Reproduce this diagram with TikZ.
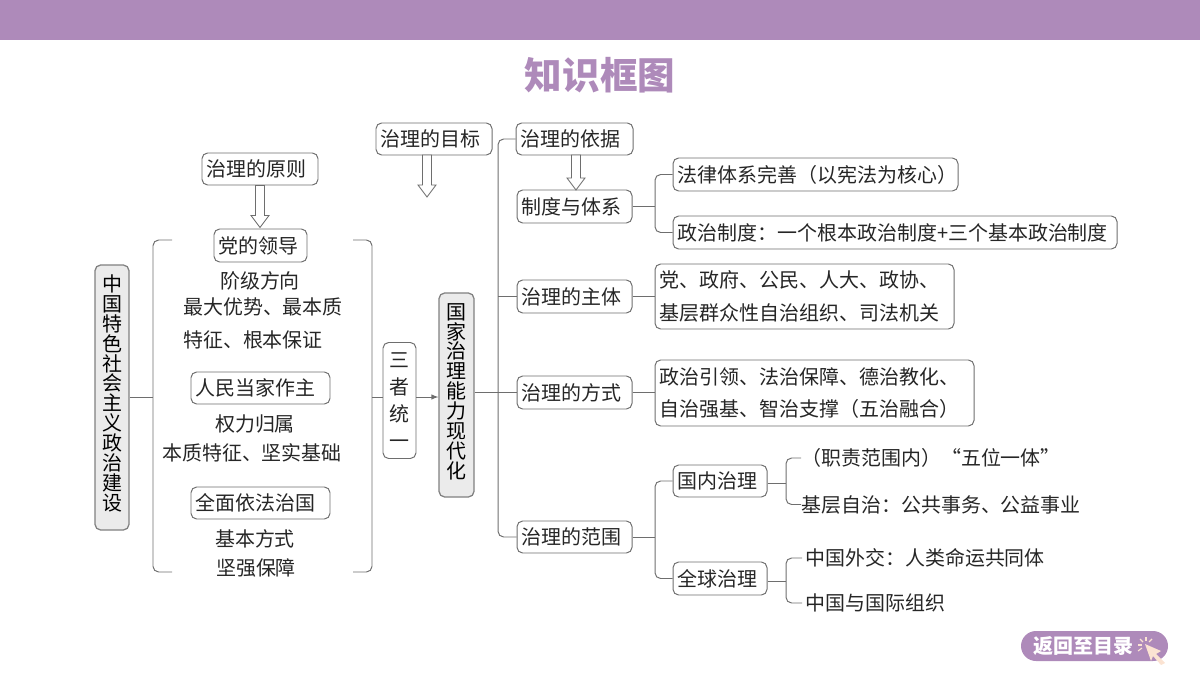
\documentclass[tikz,border=0pt]{standalone}
\usepackage{fontspec}
\setmainfont{Noto Sans CJK SC}
\usetikzlibrary{arrows.meta}
\usetikzlibrary{positioning}
\definecolor{headpurple}{HTML}{AE8ABA}
\definecolor{linegray}{HTML}{6E6E6E}
\definecolor{panelgray}{HTML}{EBEBEB}
\definecolor{handcream}{HTML}{FBE3D2}
\tikzset{>=latex}
\tikzset{
  every node/.style={font=\fontsize{14.2}{23}\selectfont, text=black!85, inner sep=0pt},
  boxnode/.style={draw=linegray, rounded corners=4pt, line width=0.7pt, fill=white, align=left, inner xsep=4.5*0.025cm, text width={(#1-9)*0.025cm}},
  panelnode/.style={draw=gray, rounded corners=4pt, line width=0.9pt, fill=panelgray, align=center, text=black, font=\fontsize{14.2}{14.2}\selectfont},
  plaintext/.style={align=center},
  branch/.style={draw=linegray, line width=0.7pt, rounded corners=4pt},
  hollow/.style={draw=linegray, line width=0.6pt, fill=white}
}
% hollow arrow: top point, length
\newcommand{\hollowarrow}[2]{
  \draw[hollow] (#1) ++(-4.5,0) -- ++(0,#2-12) -- ++(-4.5,0) -- ++(9,12) -- ++(9,-12) -- ++(-4.5,0) -- ++(0,12-#2) -- cycle;
}
\begin{document}
\begin{tikzpicture}[x=0.025cm, y=-0.025cm]
    \useasboundingbox (0,0) rectangle (1200,675);

    % Draw the header and the title.
    \fill[headpurple] (0,0) rectangle (1200,40);
    \node (title) at (600,75) {\fontsize{26.7}{30}\selectfont\bfseries\color{headpurple}知识框图};

    % Draw the left column.
    \node[panelnode, minimum width=34*0.025cm, minimum height=265*0.025cm] (build) at (112,397.5)
      {中\\国\\特\\色\\社\\会\\主\\义\\政\\治\\建\\设\rule[-7pt]{0pt}{7pt}};
    \node[boxnode=116, minimum height=32*0.025cm] (rule) at (260,169) {治理的原则};
    \node[boxnode=93, minimum height=33*0.025cm] (party) at (260.5,245.5) {党的领导};
    \node[boxnode=139, minimum height=32*0.025cm] (people) at (260.5,388) {人民当家作主};
    \node[boxnode=139, minimum height=32*0.025cm] (law) at (260.5,503) {全面依法治国};
    \node[plaintext] (class) at (260,281) {阶级方向};
    \node[plaintext] (adv) at (263,307) {最大优势、最本质};
    \node[plaintext] (feat) at (253,340) {特征、根本保证};
    \node[plaintext] (power) at (255,424) {权力归属};
    \node[plaintext] (essence) at (252,453) {本质特征、坚实基础};
    \node[plaintext] (way) at (255,539) {基本方式};
    \node[plaintext] (guard) at (256,568) {坚强保障};
    \hollowarrow{rule.south}{42}

    % Draw the brackets.
    \coordinate (lb) at (153,397);
    \coordinate (rb) at (372,397);
    \draw[branch] (172,240) -- (153,240) -- (153,572) -- (172,572);
    \draw[branch] (353,240) -- (372,240) -- (372,572) -- (353,572);

    % Draw the middle column.
    \node[draw=linegray, rounded corners=4pt, line width=0.7pt, fill=white, align=center, font=\fontsize{14.2}{19.2}\selectfont, minimum width=33*0.025cm, minimum height=116*0.025cm] (unity) at (399.5,400.5)
      {三\\者\\统\\一};
    \node[panelnode, minimum width=35*0.025cm, minimum height=204*0.025cm] (state) at (456.5,395)
      {国\\家\\治\\理\\能\\力\\现\\代\\化\rule[-5.7pt]{0pt}{5.7pt}};
    \node[boxnode=116, minimum height=32*0.025cm] (goal) at (434,139) {治理的目标};
    \coordinate (goalfoot) at (427,155);
    \hollowarrow{goalfoot}{42}
    \draw[branch] (build.east |- lb) -- (lb);
    \draw[branch] (rb) -- (unity.west |- rb);
    \draw[branch, ->] (unity.east |- rb) -- (state.west |- rb);

    % Draw the trunk with its five boxes.
    \coordinate (trunk) at (498,392);
    \node[boxnode=117, minimum height=32*0.025cm] (basis) at (574.5,139) {治理的依据};
    \node[boxnode=115, minimum height=33*0.025cm] (system) at (574.5,206.5) {制度与体系};
    \node[boxnode=115, minimum height=33*0.025cm] (actor) at (574.5,296.5) {治理的主体};
    \node[boxnode=115, minimum height=33*0.025cm] (method) at (574.5,392.5) {治理的方式};
    \node[boxnode=115, minimum height=32*0.025cm] (scope) at (574.5,537) {治理的范围};
    \draw[branch] (basis.west) -| (trunk) |- (scope.west);
    \draw[branch] (state.east |- method.west) -- (method.west);
    \draw[branch] (trunk |- actor.west) -- (actor.west);
    \coordinate (basisfoot) at (576,155);
    \hollowarrow{basisfoot}{35}

    % Draw the law and politics boxes.
    \coordinate (sysj) at (655,206.5);
    \node[boxnode=285, minimum height=33*0.025cm] (legal) at (815.5,174.5) {法律体系完善（以宪法为核心）};
    \node[boxnode=444, minimum height=33*0.025cm] (polit) at (895,232.5) {政治制度：一个根本政治制度+三个基本政治制度};
    \draw[branch] (system.east) -- (sysj);
    \draw[branch] (legal.west) -| (sysj) |- (polit.west);

    % Draw the actor and method boxes.
    \node[boxnode=299, minimum height=65*0.025cm] (actorbox) at (804.5,296.5)
      {党、政府、公民、人大、政协、\\基层群众性自治组织、司法机关};
    \node[boxnode=319, minimum height=66*0.025cm] (methodbox) at (814.5,393)
      {政治引领、法治保障、德治教化、\\自治强基、智治支撑（五治融合）};
    \draw[branch] (actor.east) -- (actorbox.west |- actor.east);
    \draw[branch] (method.east) -- (methodbox.west |- method.east);

    % Draw the scope tree.
    \coordinate (scopej) at (655,537);
    \coordinate (homej) at (786,483);
    \coordinate (globj) at (786,581);
    \node[boxnode=94, minimum height=32*0.025cm] (home) at (720,481) {国内治理};
    \node[boxnode=94, minimum height=33*0.025cm] (glob) at (720,578.5) {全球治理};
    \node[plaintext, anchor=west] (duty) at (801,458) {（职责范围内）“五位一体”};
    \node[plaintext, anchor=west] (local) at (801,504.5) {基层自治：公共事务、公益事业};
    \node[plaintext, anchor=west, inner xsep=3*0.025cm] (dipl) at (802,558) {中国外交：人类命运共同体};
    \node[plaintext, anchor=west, inner xsep=3*0.025cm] (intl) at (802,603) {中国与国际组织};
    \draw[branch] (scope.east) -- (scopej);
    \draw[branch] (home.west) -| (scopej) |- (glob.west);
    \draw[branch] (home.east |- homej) -- (homej);
    \draw[branch] (glob.east |- globj) -- (globj);
    \draw[branch] (duty.west) -| (homej) |- (local.west);
    \draw[branch] (dipl.west) -| (globj) |- (intl.west);

    % Draw the return button.
    \node[fill=headpurple, rounded corners=15*0.025cm, minimum width=147*0.025cm, minimum height=30*0.025cm] (back) at (1094.5,646) {};
    \node[anchor=west] (backtext) at (1033,646) {\color{white}\bfseries 返回至目录};
    \fill[handcream] (1145,644) -- (1161,651) -- (1156,654) -- (1165,663) -- (1161,665) -- (1153,656) -- (1151,661) -- cycle;
    \foreach \a/\b/\c/\d in {1138/645/1142/645, 1138/651/1142/648, 1140/639/1143/642, 1146/637/1146/641, 1152/639/1149/642}
      \draw[handcream, line width=0.8pt] (\a,\b) -- (\c,\d);
\end{tikzpicture}
\end{document}
